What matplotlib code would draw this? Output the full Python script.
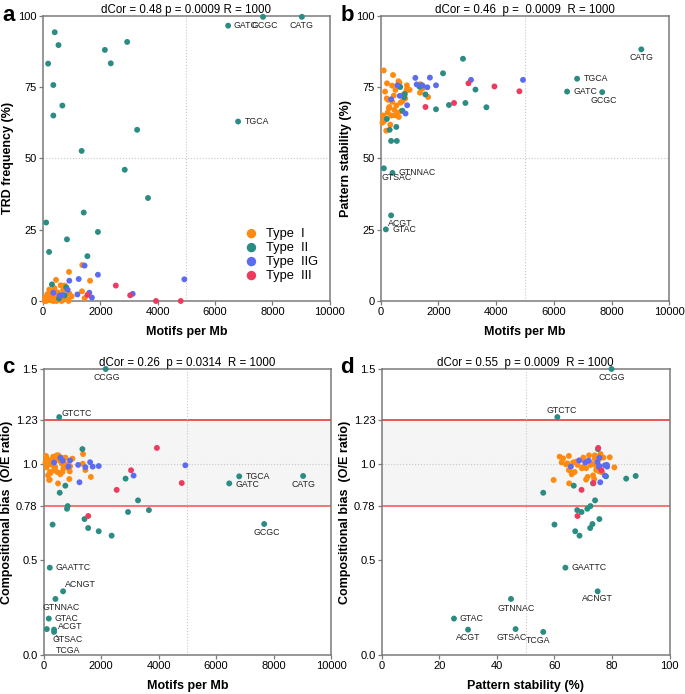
import numpy as np
import matplotlib
matplotlib.use("Agg")
import matplotlib.pyplot as plt

plt.rcParams['font.family'] = ['Liberation Sans', 'DejaVu Sans']
plt.rcParams['font.size'] = 7.5

#--------------------------------
# Data
#--------------------------------
# Type I (orange)
t1_mb = [104, 427, 150, 218, 1370, 906, 1640, 453, 616, 755, 1360, 1450, 114, 190,
         300, 360, 510, 580, 499, 209, 278, 394, 626, 684, 800, 893, 60, 80, 250,
         330, 470, 540, 700, 850, 920, 150, 400, 650, 240, 1000]
t1_trd = [0.5, 2.0, 1.0, 4.0, 12.6, 10.2, 7.1, 7.4, 5.5, 5.4, 3.4, 1.0, 0.0, 0.5,
          1.5, 0.0, 3.0, 0.5, 2.5, 1.8, 0.2, 1.0, 2.2, 0.3, 1.0, 0.0, 0.0, 1.2, 2.8,
          0.8, 0.0, 1.4, 3.8, 0.5, 2.6, 2.4, 4.5, 0.0, 1.0, 1.6]
t1_stab = [80.8, 79.2, 73.4, 76.3, 76.0, 75.6, 71.5, 72.0, 77.0, 70.0, 73.0, 74.5, 63.0, 59.7,
           68.0, 65.0, 74.0, 66.0, 65.1, 71.0, 67.5, 75.5, 64.5, 69.5, 72.5, 73.8, 62.5, 65.0, 70.5,
           61.8, 67.0, 68.5, 66.5, 71.0, 74.5, 64.0, 69.8, 76.5, 66.0, 74.0]
t1_bias = [0.984, 1.037, 0.942, 0.960, 1.054, 0.963, 0.934, 1.047, 1.035, 1.035, 1.003, 0.970, 1.031, 0.918,
           0.997, 0.970, 1.047, 0.948, 0.900, 0.920, 1.014, 1.028, 1.005, 0.979, 0.997, 0.923, 1.010, 1.044, 1.020,
           1.040, 0.960, 1.020, 1.010, 0.980, 0.990, 1.000, 0.985, 0.960, 0.955, 1.030]

# Type II (teal)
t2_name = ['CCGG', 'GTCTC', '', '', '', '', '', '', '', '', '', '', '', '', '', '',
           'TGCA', 'GATC', 'CATG', 'GCGC', 'GAATTC', 'ACNGT', 'GTNNAC', 'GTAC', 'ACGT', 'GTSAC', 'TCGA']
t2_mb = [2158, 540, 1347, 2850, 752, 557, 3283, 835, 810, 2935, 3662, 310, 1420, 1548, 1915, 2364,
         6805, 6458, 9030, 7675, 212, 675, 408, 178, 360, 108, 360]
t2_trd = [88.0, 89.7, 52.6, 46.0, 2.0, 0.9, 60.0, 21.6, 4.8, 90.8, 36.1, 5.8, 31.0, 15.7, 24.2, 83.3,
          62.9, 96.5, 99.6, 99.6, 17.2, 68.5, 94.2, 83.2, 75.7, 27.5, 65.0]
t2_stab = [79.8, 61.0, 75.1, 84.9, 66.7, 56.1, 74.1, 72.5, 71.4, 69.4, 67.9, 60.0, 75.6, 72.4, 67.2, 68.7,
           77.9, 73.4, 88.2, 73.2, 63.8, 75.0, 44.9, 25.1, 30.0, 46.5, 56.1]
t2_bias = [1.50, 1.248, 1.08, 0.925, 0.888, 0.851, 0.811, 0.781, 0.767, 0.750, 0.760, 0.684, 0.713, 0.666, 0.649, 0.626,
           0.937, 0.900, 0.939, 0.687, 0.458, 0.334, 0.294, 0.191, 0.133, 0.136, 0.121]

# Type IIG (blue)
t2g_mb = [360, 580, 660, 860, 916, 1200, 1245, 1450, 1615, 1705, 1915, 3128, 4930]
t2g_trd = [2.9, 1.9, 2.0, 3.9, 7.1, 2.3, 7.7, 12.4, 2.9, 1.2, 9.2, 2.5, 7.6]
t2g_stab = [70.7, 75.6, 71.9, 65.7, 68.6, 78.2, 75.9, 75.5, 74.9, 78.3, 75.6, 77.5, 77.5]
t2g_bias = [1.009, 1.035, 1.019, 0.988, 1.02, 0.997, 0.906, 0.985, 1.011, 0.988, 0.991, 0.941, 0.995]

# Type III (red)
t3_mb = [1550, 2540, 3040, 3940, 4805]
t3_trd = [2.1, 5.4, 2.0, 0.0, 0.0]
t3_stab = [68.0, 69.4, 76.3, 75.2, 73.5]
t3_bias = [0.729, 0.866, 0.969, 1.086, 0.902]

types = ['Type  I', 'Type  II', 'Type  IIG', 'Type  III']
colors = ['#FF8A12', '#2A8C82', '#5C6CF2', '#EE3A5E']

titles = ['dCor = 0.48 p = 0.0009 R = 1000',
          'dCor = 0.46  p =  0.0009  R = 1000',
          'dCor = 0.26  p = 0.0314  R = 1000',
          'dCor = 0.55  p = 0.0009  R = 1000']

# label offsets in points: name -> (dx, dy, ha)
labels_a = {'GATC': (4, 0, 'left'), 'GCGC': (1, -6.5, 'center'), 'CATG': (0, -6, 'center'),
            'TGCA': (4.5, 0, 'left')}
labels_b = {'CATG': (0, -6, 'center'), 'TGCA': (4.5, 0, 'left'), 'GATC': (4.5, 0, 'left'),
            'GCGC': (1, -6, 'center'), 'GTNNAC': (4.5, 0, 'left'), 'GTSAC': (9, -6.3, 'center'),
            'ACGT': (6.5, -5.5, 'center'), 'GTAC': (4.5, 0, 'left')}
labels_c = {'CCGG': (1, -6, 'center'), 'GTCTC': (1.7, 2.5, 'left'), 'TGCA': (4.5, 0, 'left'),
            'GATC': (4.3, -0.5, 'left'), 'CATG': (0, -6, 'center'), 'GCGC': (1.7, -6.3, 'center'),
            'GAATTC': (4.3, 0, 'left'), 'ACNGT': (1.7, 5, 'left'), 'GTNNAC': (4.3, -6.3, 'center'),
            'GTAC': (4.3, 0, 'left'), 'ACGT': (2.7, 2.6, 'left'), 'GTSAC': (14.8, -7.3, 'center')}
labels_d = {'CCGG': (0, -6, 'center'), 'GTCTC': (3, 5, 'center'), 'GAATTC': (4.5, 0, 'left'),
            'ACNGT': (0, -5.5, 'center'), 'GTNNAC': (3.4, -7, 'center'), 'GTAC': (4.3, 0, 'left'),
            'ACGT': (0, -6, 'center'), 'GTSAC': (-3, -5.8, 'center'), 'TCGA': (-4, -6, 'center')}

#--------------------------------
# Figure
#--------------------------------
fig = plt.figure(figsize=(6.85, 6.94), dpi=100)
ax_a = fig.add_axes([0.0628, 0.5663, 0.4185, 0.4111])
ax_b = fig.add_axes([0.5558, 0.5663, 0.4213, 0.4111])
ax_c = fig.add_axes([0.0638, 0.0562, 0.4194, 0.4121])
ax_d = fig.add_axes([0.5572, 0.0562, 0.4204, 0.4121])

all_x = [t1_mb, t2_mb, t2g_mb, t3_mb]
all_trd = [t1_trd, t2_trd, t2g_trd, t3_trd]
all_stab = [t1_stab, t2_stab, t2g_stab, t3_stab]
all_bias = [t1_bias, t2_bias, t2g_bias, t3_bias]

def style(ax):
    for spine in ax.spines.values():
        spine.set_color('#7a7a7a')
        spine.set_linewidth(1.1)
    ax.tick_params(direction='out', length=3, width=0.9, color='#7a7a7a',
                   labelsize=8, pad=1.5)

def label_points(ax, xs, ys, table):
    for name, x, y in zip(t2_name, xs, ys):
        if name in table:
            dx, dy, ha = table[name]
            ax.annotate(name, (x, y), xytext=(dx, dy), textcoords='offset points',
                        ha=ha, va='center', fontsize=6.3, color='#222222')

panels = [(ax_a, all_x, all_trd), (ax_b, all_x, all_stab),
          (ax_c, all_x, all_bias), (ax_d, all_stab, all_bias)]

for k, (ax, xs, ys) in enumerate(panels):
    for xv, yv, c, lab in zip(xs, ys, colors, types):
        ax.scatter(xv, yv, s=18, color=c, edgecolors='none', label=lab,
                   clip_on=False, zorder=3)
    style(ax)
    ax.set_title(titles[k], fontsize=8.3, pad=2)

for ax in (ax_a, ax_b):
    ax.set_xlim(0, 10000)
    ax.set_ylim(0, 100)
    ax.set_xticks(np.arange(0, 10001, 2000))
    ax.set_yticks([0, 25, 50, 75, 100])
    ax.axvline(5000, color='#c8c8c8', ls=':', lw=0.8, zorder=1)
    ax.axhline(50, color='#c8c8c8', ls=':', lw=0.8, zorder=1)
    ax.set_xlabel('Motifs per Mb', fontsize=9, fontweight='bold', labelpad=6)

ax_a.set_ylabel('TRD frequency (%)', fontsize=9, fontweight='bold', labelpad=3)
ax_b.set_ylabel('Pattern stability (%)', fontsize=9, fontweight='bold', labelpad=3)

bias_ticks = [0.0, 0.5, 0.78, 1.0, 1.23, 1.5]
bias_labels = ['0.0', '0.5', '0.78', '1.0', '1.23', '1.5']
for ax in (ax_c, ax_d):
    ax.set_ylim(0, 1.5)
    ax.set_yticks(bias_ticks)
    ax.set_yticklabels(bias_labels)
    ax.axhspan(0.78, 1.23, color='#f5f5f5', zorder=0)
    ax.axhline(0.78, color='#f26060', lw=1.2, zorder=1)
    ax.axhline(1.23, color='#e83a3a', lw=1.2, zorder=1)
    ax.axhline(1.0, color='#c8c8c8', ls=':', lw=0.8, zorder=1)
    ax.set_ylabel('Compositional bias  (O/E ratio)', fontsize=9, fontweight='bold', labelpad=2)

ax_c.set_xlim(0, 10000)
ax_c.set_xticks(np.arange(0, 10001, 2000))
ax_c.axvline(5000, color='#c8c8c8', ls=':', lw=0.8, zorder=1)
ax_c.set_xlabel('Motifs per Mb', fontsize=9, fontweight='bold', labelpad=6)

ax_d.set_xlim(0, 100)
ax_d.set_xticks(np.arange(0, 101, 20))
ax_d.axvline(50, color='#c8c8c8', ls=':', lw=0.8, zorder=1)
ax_d.set_xlabel('Pattern stability (%)', fontsize=9, fontweight='bold', labelpad=6)

label_points(ax_a, t2_mb, t2_trd, labels_a)
label_points(ax_b, t2_mb, t2_stab, labels_b)
label_points(ax_c, t2_mb, t2_bias, labels_c)
label_points(ax_d, t2_stab, t2_bias, labels_d)

# TCGA in panel c has a leader line
i_tcga = t2_name.index('TCGA')
ax_c.annotate('TCGA', (t2_mb[i_tcga], t2_bias[i_tcga]), xytext=(9.9, -13.7),
              textcoords='offset points', ha='center', va='center', fontsize=6.3,
              color='#222222',
              arrowprops=dict(arrowstyle='-', lw=0.6, color='#333333',
                              shrinkA=4, shrinkB=3))

# legend
ax_a.legend(loc='lower right', bbox_to_anchor=(0.99, 0.035), frameon=False,
            fontsize=9.3, handletextpad=0.1, labelspacing=0.15,
            markerscale=1.6, borderpad=0.2)

# panel letters
for letter, (x, y) in zip('abcd', [(0.003, 0.978), (0.497, 0.978), (0.003, 0.471), (0.497, 0.471)]):
    fig.text(x, y, letter, fontsize=16, fontweight='bold', ha='left', va='center')

plt.savefig('out.png', dpi=100)
